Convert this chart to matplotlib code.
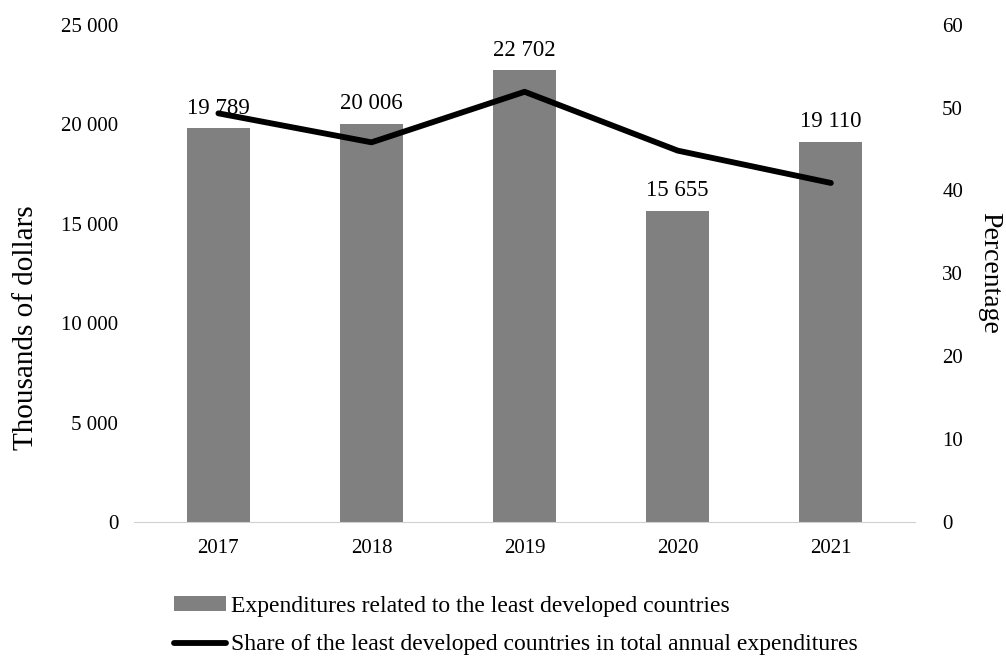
import matplotlib.pyplot as plt
from matplotlib.lines import Line2D
from matplotlib.patches import Patch

plt.rcParams['font.family'] = ['Liberation Serif', 'DejaVu Serif']

years = ["2017", "2018", "2019", "2020", "2021"]
expenditures = [19789, 20006, 22702, 15655, 19110]
share_pct = [49.3, 45.8, 51.9, 44.8, 40.9]

bar_color = "#808080"


def fmt_space(v):
    return "{:,}".format(int(v)).replace(",", " ")


fig = plt.figure(figsize=(10.06, 6.57), dpi=100)
ax = fig.add_axes([0.141, 0.2055, 0.761, 0.757])
ax2 = ax.twinx()

x = range(len(years))
bars = ax.bar(x, expenditures, width=0.41, color=bar_color, zorder=2)
for xi, v in zip(x, expenditures):
    ax.annotate(fmt_space(v), (xi, v), xytext=(0, 7), textcoords="offset points",
                ha="center", va="bottom", fontsize=16.5)

ax2.plot(list(x), share_pct, color="black", linewidth=4.2, solid_capstyle="round", zorder=3)

ax.set_xlim(-0.5, len(years) - 0.5)
ax.set_ylim(0, 25000)
ax.set_yticks(range(0, 25001, 5000))
ax.set_yticklabels([fmt_space(t) for t in range(0, 25001, 5000)])
ax.set_xticks(list(x))
ax.set_xticklabels(years)
ax2.set_ylim(0, 60)
ax2.set_yticks(range(0, 61, 10))

for a in (ax, ax2):
    for s in a.spines.values():
        s.set_visible(False)
    a.tick_params(length=0, labelsize=15)
ax.spines["bottom"].set_visible(True)
ax.spines["bottom"].set_color("#d0d0d0")
ax.spines["bottom"].set_bounds(-0.55, 4.55)
ax.tick_params(axis="y", pad=17)
ax.tick_params(axis="x", pad=12)
ax2.tick_params(axis="y", pad=25)

ax.set_ylabel("Thousands of dollars", fontsize=21)
ax.yaxis.set_label_coords(-0.1345, 0.39)
ax2.set_ylabel("Percentage", fontsize=20, rotation=270, labelpad=28)

handles = [Patch(facecolor=bar_color, edgecolor="none"),
           Line2D([0], [0], color="black", linewidth=4.2, solid_capstyle="round")]
labels = ["Expenditures related to the least developed countries",
          "Share of the least developed countries in total annual expenditures"]
fig.legend(handles, labels, loc="lower left", bbox_to_anchor=(0.152, -0.03),
           frameon=False, fontsize=17, handlelength=2.2, handleheight=0.6,
           handletextpad=0.2, labelspacing=0.75)

fig.savefig("out.png", dpi=100)
